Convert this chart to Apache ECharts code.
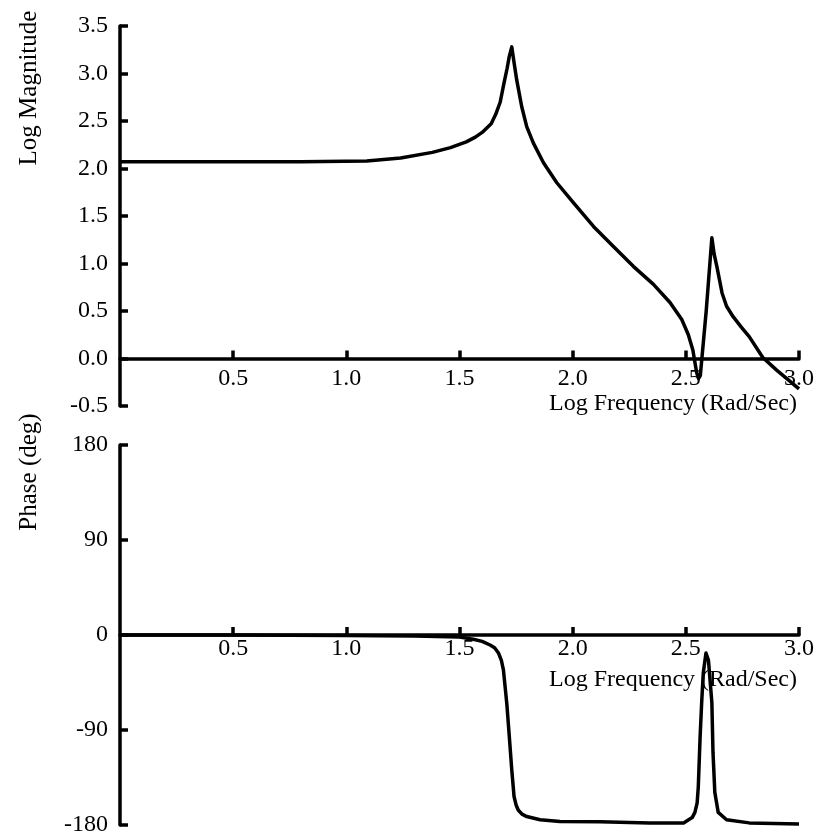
<!DOCTYPE html>
<html>
<head>
<meta charset="utf-8">
<script src="https://cdn.jsdelivr.net/npm/echarts@6/dist/echarts.min.js"></script>
<style>html,body{margin:0;padding:0;background:#fff}#c{width:822px;height:838px}</style>
</head>
<body>
<div id="c"></div>
<script>
// Log frequency (rad/sec) vs log magnitude
const magFreq = [0, 0.25, 0.5, 0.8, 1.09, 1.24, 1.38, 1.46, 1.53, 1.57, 1.60, 1.64, 1.66, 1.68, 1.695, 1.71, 1.72, 1.731, 1.742, 1.753, 1.775, 1.797, 1.826, 1.871, 1.93, 2.003, 2.092, 2.18, 2.268, 2.357, 2.43, 2.482, 2.511, 2.531, 2.54, 2.548, 2.556, 2.564, 2.59, 2.615, 2.625, 2.637, 2.66, 2.68, 2.709, 2.745, 2.78, 2.84, 2.90, 2.95, 3.0];
const magValue = [2.07, 2.07, 2.07, 2.07, 2.08, 2.11, 2.17, 2.22, 2.28, 2.33, 2.38, 2.47, 2.57, 2.70, 2.88, 3.05, 3.18, 3.28, 3.10, 2.93, 2.65, 2.44, 2.27, 2.06, 1.85, 1.64, 1.39, 1.18, 0.97, 0.78, 0.59, 0.41, 0.25, 0.09, -0.04, -0.15, -0.21, -0.18, 0.50, 1.27, 1.10, 0.97, 0.69, 0.55, 0.44, 0.33, 0.23, 0.01, -0.12, -0.22, -0.32];
// Log frequency vs phase (deg)
const phaseFreq = [0, 0.5, 1.0, 1.3, 1.5, 1.561, 1.60, 1.635, 1.655, 1.672, 1.685, 1.694, 1.709, 1.72, 1.731, 1.741, 1.75, 1.76, 1.778, 1.797, 1.856, 1.944, 2.12, 2.34, 2.49, 2.528, 2.54, 2.55, 2.555, 2.563, 2.57, 2.577, 2.589, 2.6, 2.615, 2.62, 2.628, 2.643, 2.68, 2.78, 3.0];
const phaseValue = [0, 0, -0.5, -1, -2, -4, -6, -9.5, -12, -17, -24, -33, -65, -96, -128, -153, -161, -166, -170, -172, -175, -176.6, -177, -178, -178, -173, -168, -159, -144, -97, -64, -36, -17, -24, -64, -111, -149, -168, -175, -178, -179];

const xTicks = [0, 0.5, 1.0, 1.5, 2.0, 2.5, 3.0];
const magTicks = [-0.5, 0, 0.5, 1.0, 1.5, 2.0, 2.5, 3.0, 3.5];
const phaseTicks = [-180, -90, 0, 90, 180];

const FONT = 'Liberation Serif';
const BLACK = '#000';
const GRID_H = 380;
const LW = 3.5;

function zeroOffset(ticks) {
  const lo = ticks[0], hi = ticks[ticks.length - 1];
  return -GRID_H * (0 - lo) / (hi - lo);
}
function xAxisCfg(gridIndex, labelMargin, yTicks) {
  return {
    type: 'value', gridIndex: gridIndex, position: 'bottom', offset: zeroOffset(yTicks),
    min: xTicks[0], max: xTicks[xTicks.length - 1], interval: xTicks[1] - xTicks[0],
    name: 'Log Frequency (Rad/Sec)', nameLocation: 'end', nameGap: -2,
    nameTextStyle: { fontFamily: FONT, fontSize: 24, color: BLACK, align: 'right', verticalAlign: 'top', padding: [33, 0, 0, 0] },
    axisLine: { onZero: false, lineStyle: { color: BLACK, width: LW } },
    axisTick: { inside: true, length: 8, lineStyle: { color: BLACK, width: LW } },
    axisLabel: { showMinLabel: false, margin: labelMargin, fontFamily: FONT, fontSize: 24, color: BLACK, formatter: v => v.toFixed(1) },
    splitLine: { show: false }
  };
}
function yAxisCfg(gridIndex, ticks, fmt) {
  return {
    type: 'value', gridIndex: gridIndex,
    min: ticks[0], max: ticks[ticks.length - 1], interval: ticks[1] - ticks[0],
    axisLine: { show: true, onZero: false, lineStyle: { color: BLACK, width: LW } },
    axisTick: { show: true, inside: true, length: 8, lineStyle: { color: BLACK, width: LW } },
    axisLabel: { margin: 12, fontFamily: FONT, fontSize: 24, color: BLACK, formatter: fmt },
    splitLine: { show: false }
  };
}

const chart = echarts.init(document.getElementById('c'), null, { renderer: 'canvas' });
chart.setOption({
  backgroundColor: '#fff',
  animation: false,
  grid: [
    { left: 120, width: 679, top: 26, height: GRID_H, containLabel: false, outerBoundsMode: 'none' },
    { left: 120, width: 679, top: 445, height: GRID_H, containLabel: false, outerBoundsMode: 'none' }
  ],
  xAxis: [xAxisCfg(0, 8, magTicks), xAxisCfg(1, 2, phaseTicks)],
  yAxis: [
    yAxisCfg(0, magTicks, v => v.toFixed(1)),
    yAxisCfg(1, phaseTicks, v => String(v))
  ],
  graphic: [
    { type: 'text', x: 29, y: 88, rotation: Math.PI / 2,
      style: { text: 'Log Magnitude', fontFamily: FONT, fontSize: 25, fill: BLACK, align: 'center', verticalAlign: 'middle' } },
    { type: 'text', x: 29, y: 472, rotation: Math.PI / 2,
      style: { text: 'Phase (deg)', fontFamily: FONT, fontSize: 25, fill: BLACK, align: 'center', verticalAlign: 'middle' } }
  ],
  series: [
    { type: 'line', xAxisIndex: 0, yAxisIndex: 0, showSymbol: false, symbol: 'none', clip: false,
      lineStyle: { color: BLACK, width: LW, join: 'round' },
      data: magFreq.map((f, i) => [f, magValue[i]]) },
    { type: 'line', xAxisIndex: 1, yAxisIndex: 1, showSymbol: false, symbol: 'none', clip: false,
      lineStyle: { color: BLACK, width: LW, join: 'round' },
      data: phaseFreq.map((f, i) => [f, phaseValue[i]]) }
  ]
});
</script>
</body>
</html>
